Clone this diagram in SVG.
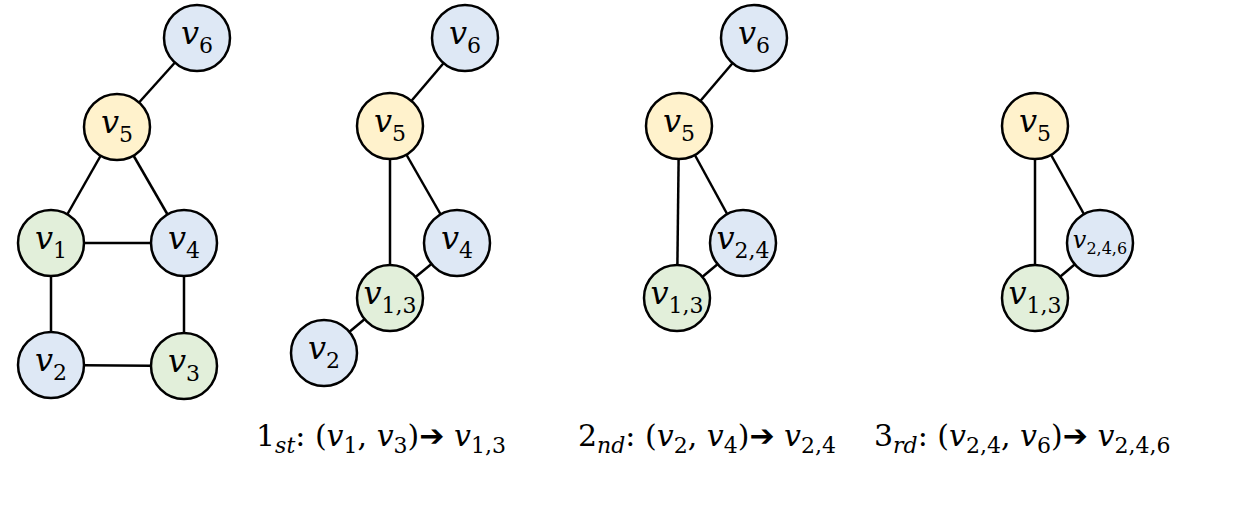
<svg xmlns="http://www.w3.org/2000/svg" width="1250" height="506" viewBox="0 0 1250 506">
<style>
circle{stroke:#000;stroke-width:2.5}
.b{fill:#dee8f5}.y{fill:#fff2cc}.g{fill:#e2efda}
#edges line{stroke:#000;stroke-width:2.5}
text{font-family:"DejaVu Serif","Liberation Serif",serif;fill:#000}
.v{font-size:32px;font-style:italic;text-anchor:middle}
.s{font-size:22px;font-style:normal}
.si{font-size:22px;font-style:italic}
.i{font-style:italic}
.c{font-size:30px}
</style>
<rect width="1250" height="506" fill="#fff"/>
<g id="edges">
<line x1="197" y1="38" x2="117" y2="127"/><line x1="117" y1="127" x2="51" y2="243"/><line x1="117" y1="127" x2="184" y2="243"/>
<line x1="51" y1="243" x2="184" y2="243"/><line x1="51" y1="243" x2="51" y2="365"/><line x1="184" y1="243" x2="184" y2="366"/><line x1="51" y1="365" x2="184" y2="366"/>
<line x1="465" y1="38" x2="390" y2="126"/><line x1="390" y1="126" x2="457" y2="243"/><line x1="390" y1="126" x2="390" y2="298"/><line x1="457" y1="243" x2="390" y2="298"/><line x1="390" y1="298" x2="324" y2="353"/>
<line x1="754" y1="38" x2="679" y2="126"/><line x1="679" y1="126" x2="743" y2="243"/><line x1="679" y1="126" x2="677" y2="298"/><line x1="743" y1="243" x2="677" y2="298"/>
<line x1="1035" y1="126" x2="1100" y2="243"/><line x1="1035" y1="126" x2="1035" y2="298"/><line x1="1100" y1="243" x2="1035" y2="298"/>
</g>
<g id="g1v6"><circle class="b" cx="197" cy="38" r="33"/><text class="v" x="197" y="44">v<tspan class="s" dy="9">6</tspan></text></g>
<g id="g1v5"><circle class="y" cx="117" cy="127" r="33"/><text class="v" x="117" y="133">v<tspan class="s" dy="9">5</tspan></text></g>
<g id="g1v1"><circle class="g" cx="51" cy="243" r="33"/><text class="v" x="51" y="249">v<tspan class="s" dy="9">1</tspan></text></g>
<g id="g1v4"><circle class="b" cx="184" cy="243" r="33"/><text class="v" x="184" y="249">v<tspan class="s" dy="9">4</tspan></text></g>
<g id="g1v2"><circle class="b" cx="51" cy="365" r="33"/><text class="v" x="51" y="371">v<tspan class="s" dy="9">2</tspan></text></g>
<g id="g1v3"><circle class="g" cx="184" cy="366" r="33"/><text class="v" x="184" y="372">v<tspan class="s" dy="9">3</tspan></text></g>

<g id="g2v6"><circle class="b" cx="465" cy="38" r="33"/><text class="v" x="465" y="44">v<tspan class="s" dy="9">6</tspan></text></g>
<g id="g2v5"><circle class="y" cx="390" cy="126" r="33"/><text class="v" x="390" y="132">v<tspan class="s" dy="9">5</tspan></text></g>
<g id="g2v4"><circle class="b" cx="457" cy="243" r="33"/><text class="v" x="457" y="249">v<tspan class="s" dy="9">4</tspan></text></g>
<g id="g2v13"><circle class="g" cx="390" cy="298" r="33"/><text class="v" x="390" y="304">v<tspan class="s" dy="9">1,3</tspan></text></g>
<g id="g2v2"><circle class="b" cx="324" cy="353" r="33"/><text class="v" x="324" y="359">v<tspan class="s" dy="9">2</tspan></text></g>

<g id="g3v6"><circle class="b" cx="754" cy="38" r="33"/><text class="v" x="754" y="44">v<tspan class="s" dy="9">6</tspan></text></g>
<g id="g3v5"><circle class="y" cx="679" cy="126" r="33"/><text class="v" x="679" y="132">v<tspan class="s" dy="9">5</tspan></text></g>
<g id="g3v24"><circle class="b" cx="743" cy="243" r="33"/><text class="v" x="743" y="249">v<tspan class="s" dy="9">2,4</tspan></text></g>
<g id="g3v13"><circle class="g" cx="677" cy="298" r="33"/><text class="v" x="677" y="304">v<tspan class="s" dy="9">1,3</tspan></text></g>

<g id="g4v5"><circle class="y" cx="1035" cy="126" r="33"/><text class="v" x="1035" y="132">v<tspan class="s" dy="9">5</tspan></text></g>
<g id="g4v246"><circle class="b" cx="1100" cy="243" r="33"/><text class="v" x="1100" y="248" style="font-size:24px">v<tspan style="font-size:16px;font-style:normal" dy="6">2,4,6</tspan></text></g>
<g id="g4v13"><circle class="g" cx="1035" cy="298" r="33"/><text class="v" x="1035" y="304">v<tspan class="s" dy="9">1,3</tspan></text></g>

<g id="captions">
<text class="c" x="256" y="446">1<tspan class="si" dy="7">st</tspan><tspan dy="-7">: (</tspan><tspan class="i">v</tspan><tspan class="s" dy="7">1</tspan><tspan dy="-7">, </tspan><tspan class="i">v</tspan><tspan class="s" dy="7">3</tspan><tspan dy="-7">)</tspan><tspan font-family="DejaVu Sans">➔</tspan> <tspan class="i">v</tspan><tspan class="s" dy="7">1,3</tspan></text>
<text class="c" x="578" y="446">2<tspan class="si" dy="7">nd</tspan><tspan dy="-7">: (</tspan><tspan class="i">v</tspan><tspan class="s" dy="7">2</tspan><tspan dy="-7">, </tspan><tspan class="i">v</tspan><tspan class="s" dy="7">4</tspan><tspan dy="-7">)</tspan><tspan font-family="DejaVu Sans">➔</tspan> <tspan class="i">v</tspan><tspan class="s" dy="7">2,4</tspan></text>
<text class="c" x="874" y="446">3<tspan class="si" dy="7">rd</tspan><tspan dy="-7">: (</tspan><tspan class="i">v</tspan><tspan class="s" dy="7">2,4</tspan><tspan dy="-7">, </tspan><tspan class="i">v</tspan><tspan class="s" dy="7">6</tspan><tspan dy="-7">)</tspan><tspan font-family="DejaVu Sans">➔</tspan> <tspan class="i">v</tspan><tspan class="s" dy="7">2,4,6</tspan></text>
</g>
</svg>
